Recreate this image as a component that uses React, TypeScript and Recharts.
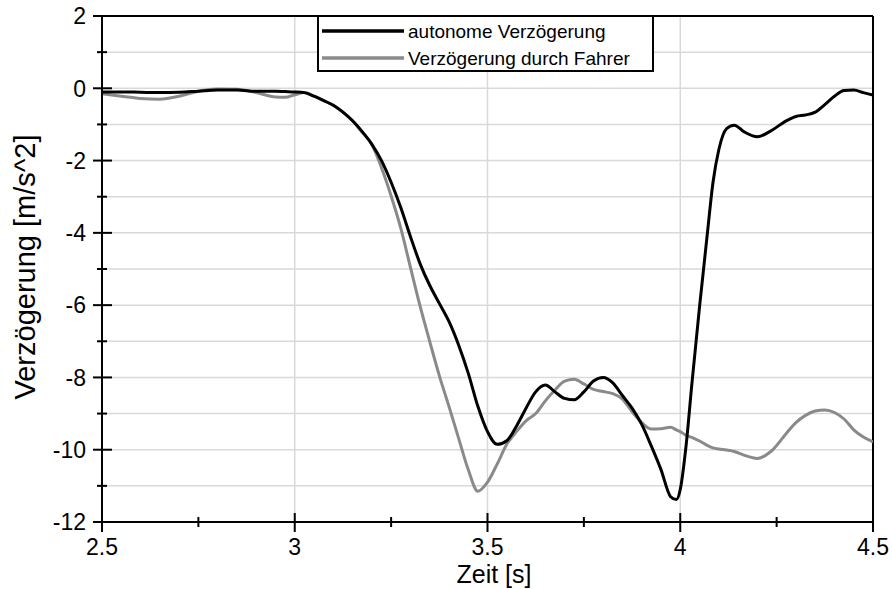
import React from "react";
import {
  LineChart,
  Line,
  XAxis,
  YAxis,
  CartesianGrid,
  ReferenceLine,
} from "recharts";

// Zeit [s]
const timeS = [
  2.5, 2.55, 2.6, 2.65, 2.7, 2.75, 2.8, 2.85, 2.9, 2.95, 2.975, 3.0, 3.025,
  3.05, 3.075, 3.1, 3.125, 3.15, 3.175, 3.2, 3.225, 3.25, 3.275, 3.3, 3.325,
  3.35, 3.375, 3.4, 3.425, 3.45, 3.475, 3.5, 3.525, 3.55, 3.575, 3.6, 3.625,
  3.65, 3.675, 3.7, 3.725, 3.75, 3.775, 3.8, 3.825, 3.85, 3.875, 3.9, 3.925,
  3.95, 3.975, 3.99, 4.0, 4.015, 4.03, 4.05, 4.07, 4.085, 4.1, 4.12, 4.14,
  4.165, 4.2, 4.235, 4.275, 4.3, 4.325, 4.35, 4.375, 4.4, 4.425, 4.45, 4.475,
  4.5,
];

// autonome Verzögerung [m/s^2]
const autonom = [
  -0.1, -0.1, -0.11, -0.12, -0.11, -0.08, -0.05, -0.05, -0.08, -0.08, -0.09,
  -0.1, -0.12, -0.22, -0.34, -0.47, -0.66, -0.9, -1.2, -1.55, -2.0, -2.6,
  -3.3, -4.1, -4.85, -5.45, -5.95, -6.45, -7.1, -7.88, -8.8, -9.5, -9.85,
  -9.75, -9.35, -8.85, -8.4, -8.21, -8.4, -8.58, -8.62, -8.4, -8.1, -8.0,
  -8.15, -8.5, -8.85, -9.3, -9.9, -10.55, -11.3, -11.38, -11.1, -9.9, -8.2,
  -6.05, -4.05, -2.6, -1.7, -1.12, -1.02, -1.2, -1.34, -1.18, -0.9, -0.78,
  -0.74, -0.66, -0.45, -0.22, -0.06, -0.05, -0.12, -0.19,
];

// Verzögerung durch Fahrer [m/s^2]
const fahrer = [
  -0.15, -0.22, -0.28, -0.3, -0.22, -0.08, -0.02, -0.03, -0.12, -0.24, -0.25,
  -0.18, -0.12, -0.22, -0.34, -0.47, -0.66, -0.9, -1.22, -1.55, -2.2, -2.98,
  -3.87, -4.95, -6.02, -7.0, -7.95, -8.8, -9.68, -10.55, -11.15, -10.9,
  -10.4, -9.85, -9.5, -9.2, -9.0, -8.65, -8.35, -8.1, -8.05, -8.18, -8.33,
  -8.39, -8.45, -8.6, -8.95, -9.25, -9.43, -9.42, -9.38, -9.45, -9.5, -9.6,
  -9.66, -9.76, -9.88, -9.95, -9.98, -10.01, -10.05, -10.15, -10.24, -10.05,
  -9.55, -9.25, -9.05, -8.93, -8.9, -8.97, -9.15, -9.45, -9.65, -9.78,
];

const seriesNames = ["autonome Verzögerung", "Verzögerung durch Fahrer"];
const seriesColors = ["#000000", "#8a8a8a"];

const xTicks = [2.5, 2.75, 3, 3.25, 3.5, 3.75, 4, 4.25, 4.5];
const xMajor = [2.5, 3, 3.5, 4, 4.5];
const yTicks = [-12, -11, -10, -9, -8, -7, -6, -5, -4, -3, -2, -1, 0, 1, 2];

const data = timeS.map((t, i) => ({ t, autonom: autonom[i], fahrer: fahrer[i] }));

const FONT = "'Liberation Sans', Arial, sans-serif";

const YTick = (props: any) => {
  const { x, y, payload } = props;
  const major = payload.value % 2 === 0;
  return (
    <g>
      <line
        x1={major ? x - 9 : x - 5}
        x2={major ? x + 10 : x + 5}
        y1={y}
        y2={y}
        stroke="#000"
        strokeWidth={2}
      />
      {major && (
        <text
          x={x - 16}
          y={y}
          dy="0.36em"
          textAnchor="end"
          fontSize={23}
          fontFamily={FONT}
          fill="#000"
        >
          {payload.value}
        </text>
      )}
    </g>
  );
};

const XTick = (props: any) => {
  const { x, y, payload } = props;
  const major = xMajor.includes(payload.value);
  return (
    <g>
      <line
        x1={x}
        x2={x}
        y1={major ? y - 9 : y - 5}
        y2={major ? y + 10 : y + 5}
        stroke="#000"
        strokeWidth={2}
      />
      {major && (
        <text
          x={x}
          y={y + 33}
          textAnchor="middle"
          fontSize={23}
          fontFamily={FONT}
          fill="#000"
        >
          {payload.value}
        </text>
      )}
    </g>
  );
};

export default function App() {
  return (
    <div
      style={{
        position: "absolute",
        left: 0,
        top: 0,
        width: 892,
        height: 589,
        background: "#fff",
      }}
    >
      <LineChart
        width={892}
        height={589}
        data={data}
        margin={{ top: 16, right: 19, bottom: 0, left: 0 }}
      >
        <CartesianGrid vertical={false} stroke="#d9d9d9" strokeWidth={1.5} />
        {[3, 3.5, 4].map((v) => (
          <ReferenceLine key={v} x={v} stroke="#d9d9d9" strokeWidth={1.5} />
        ))}
        <XAxis
          dataKey="t"
          type="number"
          domain={[2.5, 4.5]}
          ticks={xTicks}
          allowDataOverflow
          height={67}
          tickSize={0}
          tickMargin={0}
          tickLine={false}
          axisLine={{ stroke: "#000", strokeWidth: 2 }}
          tick={<XTick />}
          interval={0}
          label={{
            content: () => (
              <text
                x={494}
                y={583}
                textAnchor="middle"
                fontSize={25}
                fontFamily={FONT}
                fill="#000"
              >
                Zeit [s]
              </text>
            ),
          }}
        />
        <YAxis
          type="number"
          domain={[-12, 2]}
          ticks={yTicks}
          allowDataOverflow
          width={102}
          tickSize={0}
          tickMargin={0}
          tickLine={false}
          axisLine={{ stroke: "#000", strokeWidth: 2 }}
          tick={<YTick />}
          interval={0}
          label={{
            content: () => (
              <text
                x={35}
                y={267}
                transform="rotate(-90 35 267)"
                textAnchor="middle"
                fontSize={29}
                fontFamily={FONT}
                fill="#000"
              >
                Verzögerung [m/s^2]
              </text>
            ),
          }}
        />
        <ReferenceLine y={2} stroke="#000" strokeWidth={2} />
        <ReferenceLine x={4.5} stroke="#000" strokeWidth={2} />
        <Line
          type="monotone"
          dataKey="fahrer"
          name={seriesNames[1]}
          stroke={seriesColors[1]}
          strokeWidth={3}
          dot={false}
          isAnimationActive={false}
        />
        <Line
          type="monotone"
          dataKey="autonom"
          name={seriesNames[0]}
          stroke={seriesColors[0]}
          strokeWidth={3}
          dot={false}
          isAnimationActive={false}
        />
      </LineChart>
      <div
        style={{
          position: "absolute",
          left: 317,
          top: 15,
          width: 337,
          height: 57,
          boxSizing: "border-box",
          border: "2px solid #000",
          background: "#fff",
        }}
      >
        <svg width={333} height={53} style={{ display: "block" }}>
          {seriesNames.map((name, i) => (
            <g key={name}>
              <line
                x1={3}
                x2={85}
                y1={14 + i * 27}
                y2={14 + i * 27}
                stroke={seriesColors[i]}
                strokeWidth={3.5}
              />
              <text
                x={89}
                y={21 + i * 27}
                fontSize={19}
                fontFamily={FONT}
                fill="#000"
              >
                {name}
              </text>
            </g>
          ))}
        </svg>
      </div>
    </div>
  );
}
